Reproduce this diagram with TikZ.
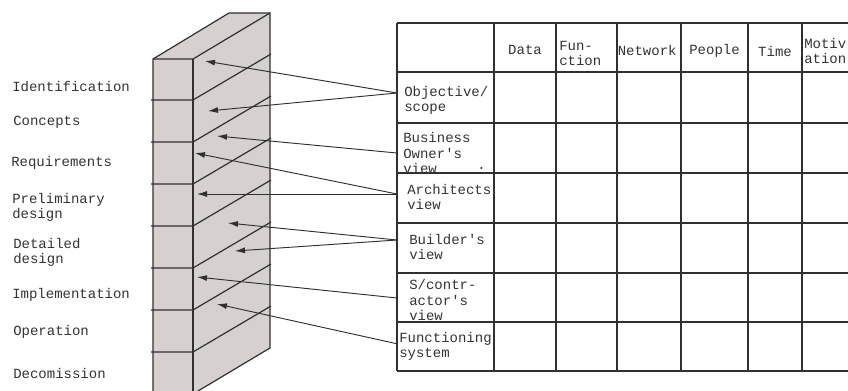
\documentclass[tikz,border=0pt]{standalone}
\usepackage{fontspec}
\newfontfamily\courfont{Liberation Mono}
\usepackage{tikz}
\usetikzlibrary{arrows.meta}
\definecolor{wallgrey}{HTML}{D6D0CE}
\definecolor{linegrey}{HTML}{303030}
\tikzset{
  lbl/.style={anchor=west,inner sep=0.75pt,align=left,text=black!80,
    font=\courfont\fontsize{10.5}{11.3}\selectfont},
  hd/.style={lbl,anchor=center},
  wall/.style={draw=linegrey,line width=0.9pt},
  grid/.style={draw=linegrey,line width=0.9pt},
  link/.style={-{Latex[length=7.5pt,width=4.5pt]},draw=linegrey,line width=0.7pt}
}
\begin{document}
\begin{tikzpicture}[x=0.75pt,y=0.75pt,yscale=-1,xscale=1]
    \useasboundingbox (0,0) rectangle (848,390);

    %Wall: front, top and side faces
    \draw [wall,fill=wallgrey] (153,59) -- (229,13) -- (270,13) -- (270,348) -- (193,394) -- (153,394) -- cycle ;
    \draw [wall] (153,59) -- (193,59) -- (270,13) ;
    \draw [wall] (193,59) -- (193,394) ;
    %Brick joints
    \foreach \y in {100,142,184,226,268,310,352} {
      \draw [wall] (151,\y) -- (193,\y) -- (271,\y-46) ;
    }

    %Table grid
    \foreach \y in {23,72,123,173,223,273,322,371} {
      \draw [grid] (397,\y) -- (850,\y) ;
    }
    \foreach \x in {397,494,556,617,681,748,802} {
      \draw [grid] (\x,23) -- (\x,371) ;
    }

    % Header nodes
    \node [hd] (data) at (525,50) {Data};
    \node [lbl] (func) at (558,53) {Fun-\\ction};
    \node [lbl] (netw) at (616.5,50) {Network};
    \node [hd] (people) at (714.5,51) {People};
    \node [hd] (time) at (775,51) {Time};
    \node [lbl] (motiv) at (803,51) {Motiv\\ation};

    % Row nodes
    \node [lbl] (obj) at (403,100) {Objective/\\scope};
    \node [lbl] (bus) at (402,153) {Business\\Owner\textquotesingle s\\view};
    \node [lbl] (dot) at (476,168) {.};
    \node [lbl] (arch) at (406,197) {Architects\\view};
    \node [lbl] (build) at (408,247) {Builder\textquotesingle s\\view};
    \node [lbl] (sub) at (408,300) {S/contr-\\actor\textquotesingle s\\view};
    \node [lbl] (funsys) at (398,346.5) {Functioning\\system};

    % Phase nodes
    \node [lbl] (ident) at (11,87) {Identification};
    \node [lbl] (conc) at (12,122) {Concepts};
    \node [lbl] (reqs) at (10,163) {Requirements};
    \node [lbl] (prelim) at (11,207.5) {Preliminary\\design};
    \node [lbl] (detail) at (12,252.5) {Detailed\\design};
    \node [lbl] (impl) at (11,295) {Implementation};
    \node [lbl] (oper) at (12,332) {Operation};
    \node [lbl] (decom) at (12,373) {Decomission};

    % Arrow ends
    \coordinate (objA) at (397,93);
    \coordinate (busA) at (397,153);
    \coordinate (archA) at (397,194);
    \coordinate (buildA) at (397,240);
    \coordinate (subA) at (397,298);
    \coordinate (funA) at (398,344);
    \coordinate (wObjA) at (205,61);
    \coordinate (wObjB) at (208,111);
    \coordinate (wBus) at (217,136);
    \coordinate (wArchA) at (195,153);
    \coordinate (wArchB) at (197,194);
    \coordinate (wBuildA) at (228,223);
    \coordinate (wBuildB) at (235,251);
    \coordinate (wSub) at (197,277);
    \coordinate (wFun) at (217,304);

    % Arrows
    \draw [link] (objA) -- (wObjA) ;
    \draw [link] (objA) -- (wObjB) ;
    \draw [link] (busA) -- (wBus) ;
    \draw [link] (archA) -- (wArchA) ;
    \draw [link] (archA) -- (wArchB) ;
    \draw [link] (buildA) -- (wBuildA) ;
    \draw [link] (buildA) -- (wBuildB) ;
    \draw [link] (subA) -- (wSub) ;
    \draw [link] (funA) -- (wFun) ;

\end{tikzpicture}
\end{document}
